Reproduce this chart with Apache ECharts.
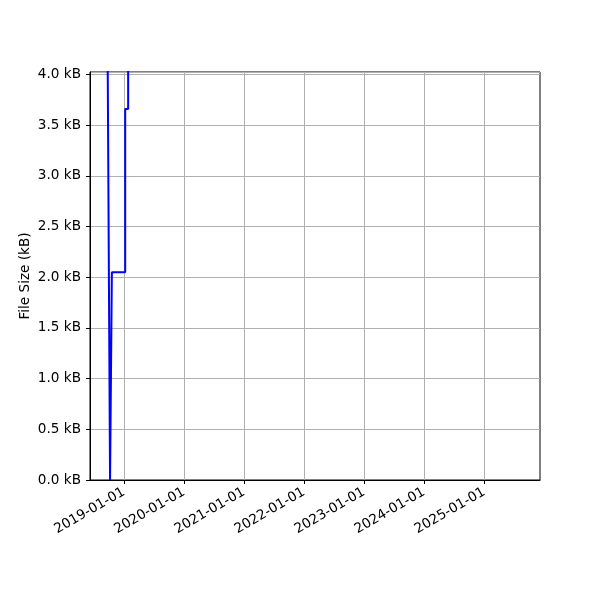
<!DOCTYPE html>
<html>
<head>
<meta charset="utf-8">
<script src="https://cdn.jsdelivr.net/npm/echarts@6/dist/echarts.min.js"></script>
<style>html,body{margin:0;padding:0;background:#fff}#c{width:600px;height:600px}</style>
</head>
<body>
<div id="c"></div>
<script>
// Data (values in kB)
var dates = ['2018-09-18', '2018-10-09', '2018-10-20', '2019-01-09', '2019-01-09', '2019-01-27', '2019-01-27'];
var sizes = [6.0, 0, 2.048, 2.048, 3.66, 3.66, 8.0];
var xTickLabels = ['2019-01-01', '2020-01-01', '2021-01-01', '2022-01-01', '2023-01-01', '2024-01-01', '2025-01-01'];
var xRange = ['2018-06-09', '2025-12-06'];
var yRange = [0, 4.024];
var yStep = 0.5;
var yTitle = 'File Size (kB)';

var ts = function (s) { return new Date(s + 'T00:00:00Z').getTime(); };
var tickVals = xTickLabels.map(ts);
var pad = function (n) { return (n < 10 ? '0' : '') + n; };
var fmtDate = function (v) {
  var d = new Date(v);
  return d.getUTCFullYear() + '-' + pad(d.getUTCMonth() + 1) + '-' + pad(d.getUTCDate());
};
var font = 'DejaVu Sans';
var chart = echarts.init(document.getElementById('c'));
chart.setOption({
  animation: false,
  grid: { left: 90, right: 60, top: 72, bottom: 120, show: true, borderColor: '#000', borderWidth: 1, backgroundColor: 'transparent' },
  xAxis: {
    type: 'value',
    min: ts(xRange[0]),
    max: ts(xRange[1]),
    axisLine: { show: true, onZero: false, lineStyle: { color: '#000', width: 1 } },
    axisTick: { show: true, customValues: tickVals, length: 4, lineStyle: { color: '#000' } },
    axisLabel: {
      customValues: tickVals,
      formatter: fmtDate,
      rotate: 30,
      margin: 11,
      color: '#000',
      fontFamily: font,
      fontSize: 13.6
    },
    splitLine: { show: true, customValues: tickVals, lineStyle: { color: '#b0b0b0', width: 1 } }
  },
  yAxis: {
    type: 'value',
    min: yRange[0],
    max: yRange[1],
    interval: yStep,
    name: yTitle,
    nameLocation: 'middle',
    nameGap: 58,
    nameMoveOverlap: false,
    nameTextStyle: { color: '#000', fontFamily: font, fontSize: 13.6 },
    axisLine: { show: true, lineStyle: { color: '#000', width: 1 } },
    axisTick: { show: true, length: 4, lineStyle: { color: '#000' } },
    axisLabel: {
      showMaxLabel: false,
      formatter: function (v) { return v.toFixed(1) + ' kB'; },
      margin: 9,
      color: '#000',
      fontFamily: font,
      fontSize: 13.6
    },
    splitLine: { show: true, lineStyle: { color: '#b0b0b0', width: 1 } }
  },
  series: [{
    type: 'line',
    data: dates.map(function (d, i) { return [ts(d), sizes[i]]; }),
    showSymbol: false,
    clip: true,
    lineStyle: { color: '#0000ff', width: 2 },
    itemStyle: { color: '#0000ff' }
  }]
});
</script>
</body>
</html>
